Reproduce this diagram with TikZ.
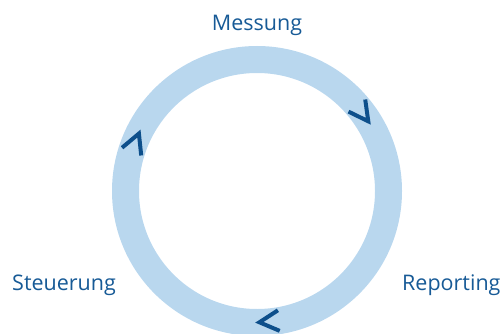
\documentclass[tikz,border=0pt]{standalone}
\usepackage{fontspec}
\setmainfont{Open Sans}
\usetikzlibrary{calc}
\definecolor{ringblue}{HTML}{B9D7EE}
\definecolor{darkblue}{HTML}{0D4F8B}
\definecolor{labelblue}{HTML}{175A96}
\begin{document}
\begin{tikzpicture}[x=1pt,y=1pt,
  ring/.style={draw=ringblue,line width=27pt},
  chev/.style={draw=darkblue,line width=4pt,line join=miter,line cap=butt},
  label/.style={text=labelblue,font=\fontsize{21.5}{25}\selectfont,inner sep=0pt}]
  \useasboundingbox (0,0) rectangle (503,333);
  \coordinate (c) at (257,142);
  % the cycle ring
  \draw[ring] (c) circle[radius=131.5];
  % clockwise chevrons on the ring
  \foreach \a in {36,158,275}{
    \path ($(c)+(\a:131)+({\a-90}:9)$) coordinate (tip);
    \draw[chev] (tip) ++({\a+62}:22) -- (tip) -- ++({\a+118}:22);
  }
  % stage labels
  \node[label,anchor=base] (mess) at (257,302) {Messung};
  \node[label,anchor=base west] (steu) at (12,43) {Steuerung};
  \node[label,anchor=base west] (rep) at (402,43) {Reporting};
\end{tikzpicture}
\end{document}
